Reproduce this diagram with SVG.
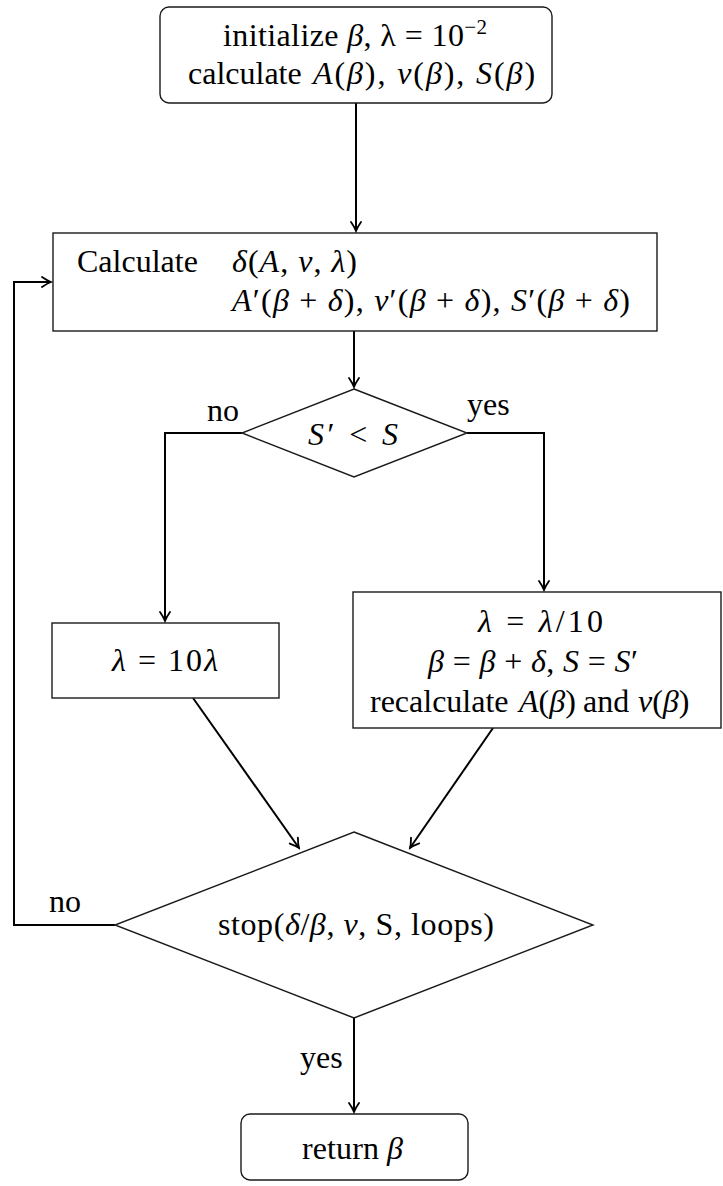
<svg xmlns="http://www.w3.org/2000/svg" width="723" height="1186" viewBox="0 0 723 1186">
<style>
  .box { fill: #ffffff; stroke: #1a1a1a; stroke-width: 1.4; }
  .edge { fill: none; stroke: #000000; stroke-width: 2; }
  .t { font-family: 'Liberation Serif', 'Times New Roman', serif; font-size: 32px; fill: #000000; }
  .c { text-anchor: middle; }
  .i { font-style: italic; }
  .m { letter-spacing: 1.9px; }
</style>
<defs>
  <marker id="arr" viewBox="-11 -7 13 14" refX="0" refY="0" markerWidth="13" markerHeight="14" markerUnits="userSpaceOnUse" orient="auto">
    <path d="M -9,-5 Q -3.5,-1.2 0,0 Q -3.5,1.2 -9,5" fill="none" stroke="#000" stroke-width="1.8" stroke-linecap="round"/>
  </marker>
</defs>

<g id="connectors">
  <path class="edge" d="M356,103 L356,231" marker-end="url(#arr)"/>
  <path class="edge" d="M354,331 L354,387" marker-end="url(#arr)"/>
  <path class="edge" d="M242,433 L165,433 L165,621" marker-end="url(#arr)"/>
  <path class="edge" d="M467,433 L544,433 L544,590" marker-end="url(#arr)"/>
  <path class="edge" d="M193,698 L299,848" marker-end="url(#arr)"/>
  <path class="edge" d="M493,728 L410,848" marker-end="url(#arr)"/>
  <path class="edge" d="M115,925 L14,925 L14,282 L51,282" marker-end="url(#arr)"/>
  <path class="edge" d="M354,1018 L354,1112" marker-end="url(#arr)"/>
  <text x="207" y="421" class="t">no</text>
  <text x="467" y="415" class="t">yes</text>
  <text x="49" y="912" class="t">no</text>
  <text x="300" y="1068" class="t">yes</text>
</g>

<g id="init">
  <rect class="box" x="160" y="7" width="392" height="96" rx="9"/>
  <text x="223" y="46" class="t" textLength="264" lengthAdjust="spacing">initialize <tspan class="i">β</tspan>, λ = 10<tspan font-size="21" dy="-12">−2</tspan></text>
  <text x="188" y="84" class="t">calculate <tspan x="313" class="m"><tspan class="i">A</tspan>(<tspan class="i">β</tspan>), <tspan class="i">v</tspan>(<tspan class="i">β</tspan>), <tspan class="i">S</tspan>(<tspan class="i">β</tspan>)</tspan></text>
</g>

<g id="calculate">
  <rect class="box" x="53" y="233" width="604" height="98"/>
  <text x="77" y="272" class="t">Calculate</text>
  <text x="232" y="272" class="t" textLength="125" lengthAdjust="spacing"><tspan class="i">δ</tspan>(<tspan class="i">A</tspan>, <tspan class="i">v</tspan>, <tspan class="i">λ</tspan>)</text>
  <text x="232" y="311" class="t" textLength="398" lengthAdjust="spacing"><tspan class="i">A</tspan>′(<tspan class="i">β</tspan> + <tspan class="i">δ</tspan>), <tspan class="i">v</tspan>′(<tspan class="i">β</tspan> + <tspan class="i">δ</tspan>), <tspan class="i">S</tspan>′(<tspan class="i">β</tspan> + <tspan class="i">δ</tspan>)</text>
</g>

<g id="compare">
  <polygon class="box" points="354,389 467,433 354,477 242,433"/>
  <text x="308" y="445" class="t" textLength="90" lengthAdjust="spacing"><tspan class="i">S</tspan>′ &lt; <tspan class="i">S</tspan></text>
</g>

<g id="increase">
  <rect class="box" x="52" y="623" width="227" height="75"/>
  <text x="112" y="671" class="t" textLength="106" lengthAdjust="spacing"><tspan class="i">λ</tspan> = 10<tspan class="i">λ</tspan></text>
</g>

<g id="accept">
  <rect class="box" x="353" y="592" width="368" height="136"/>
  <text x="478" y="632" class="t" textLength="125" lengthAdjust="spacing"><tspan class="i">λ</tspan> = <tspan class="i">λ</tspan>/10</text>
  <text x="428" y="672" class="t" textLength="210" lengthAdjust="spacing"><tspan class="i">β</tspan> = <tspan class="i">β</tspan> + <tspan class="i">δ</tspan>, <tspan class="i">S</tspan> = <tspan class="i">S</tspan>′</text>
  <text x="370" y="712" class="t">recalculate <tspan x="519"><tspan class="i">A</tspan>(<tspan class="i">β</tspan>)</tspan> <tspan x="583">and</tspan> <tspan x="638"><tspan class="i">v</tspan>(<tspan class="i">β</tspan>)</tspan></text>
</g>

<g id="stop">
  <polygon class="box" points="354,832 593,925 354,1018 115,925"/>
  <text x="218" y="935" class="t" textLength="276" lengthAdjust="spacing">stop(<tspan class="i">δ</tspan>/<tspan class="i">β</tspan>, <tspan class="i">v</tspan>, S, loops)</text>
</g>

<g id="return">
  <rect class="box" x="241" y="1114" width="227" height="66" rx="9"/>
  <text x="302" y="1159" class="t" textLength="101" lengthAdjust="spacing">return <tspan class="i">β</tspan></text>
</g>
</svg>
